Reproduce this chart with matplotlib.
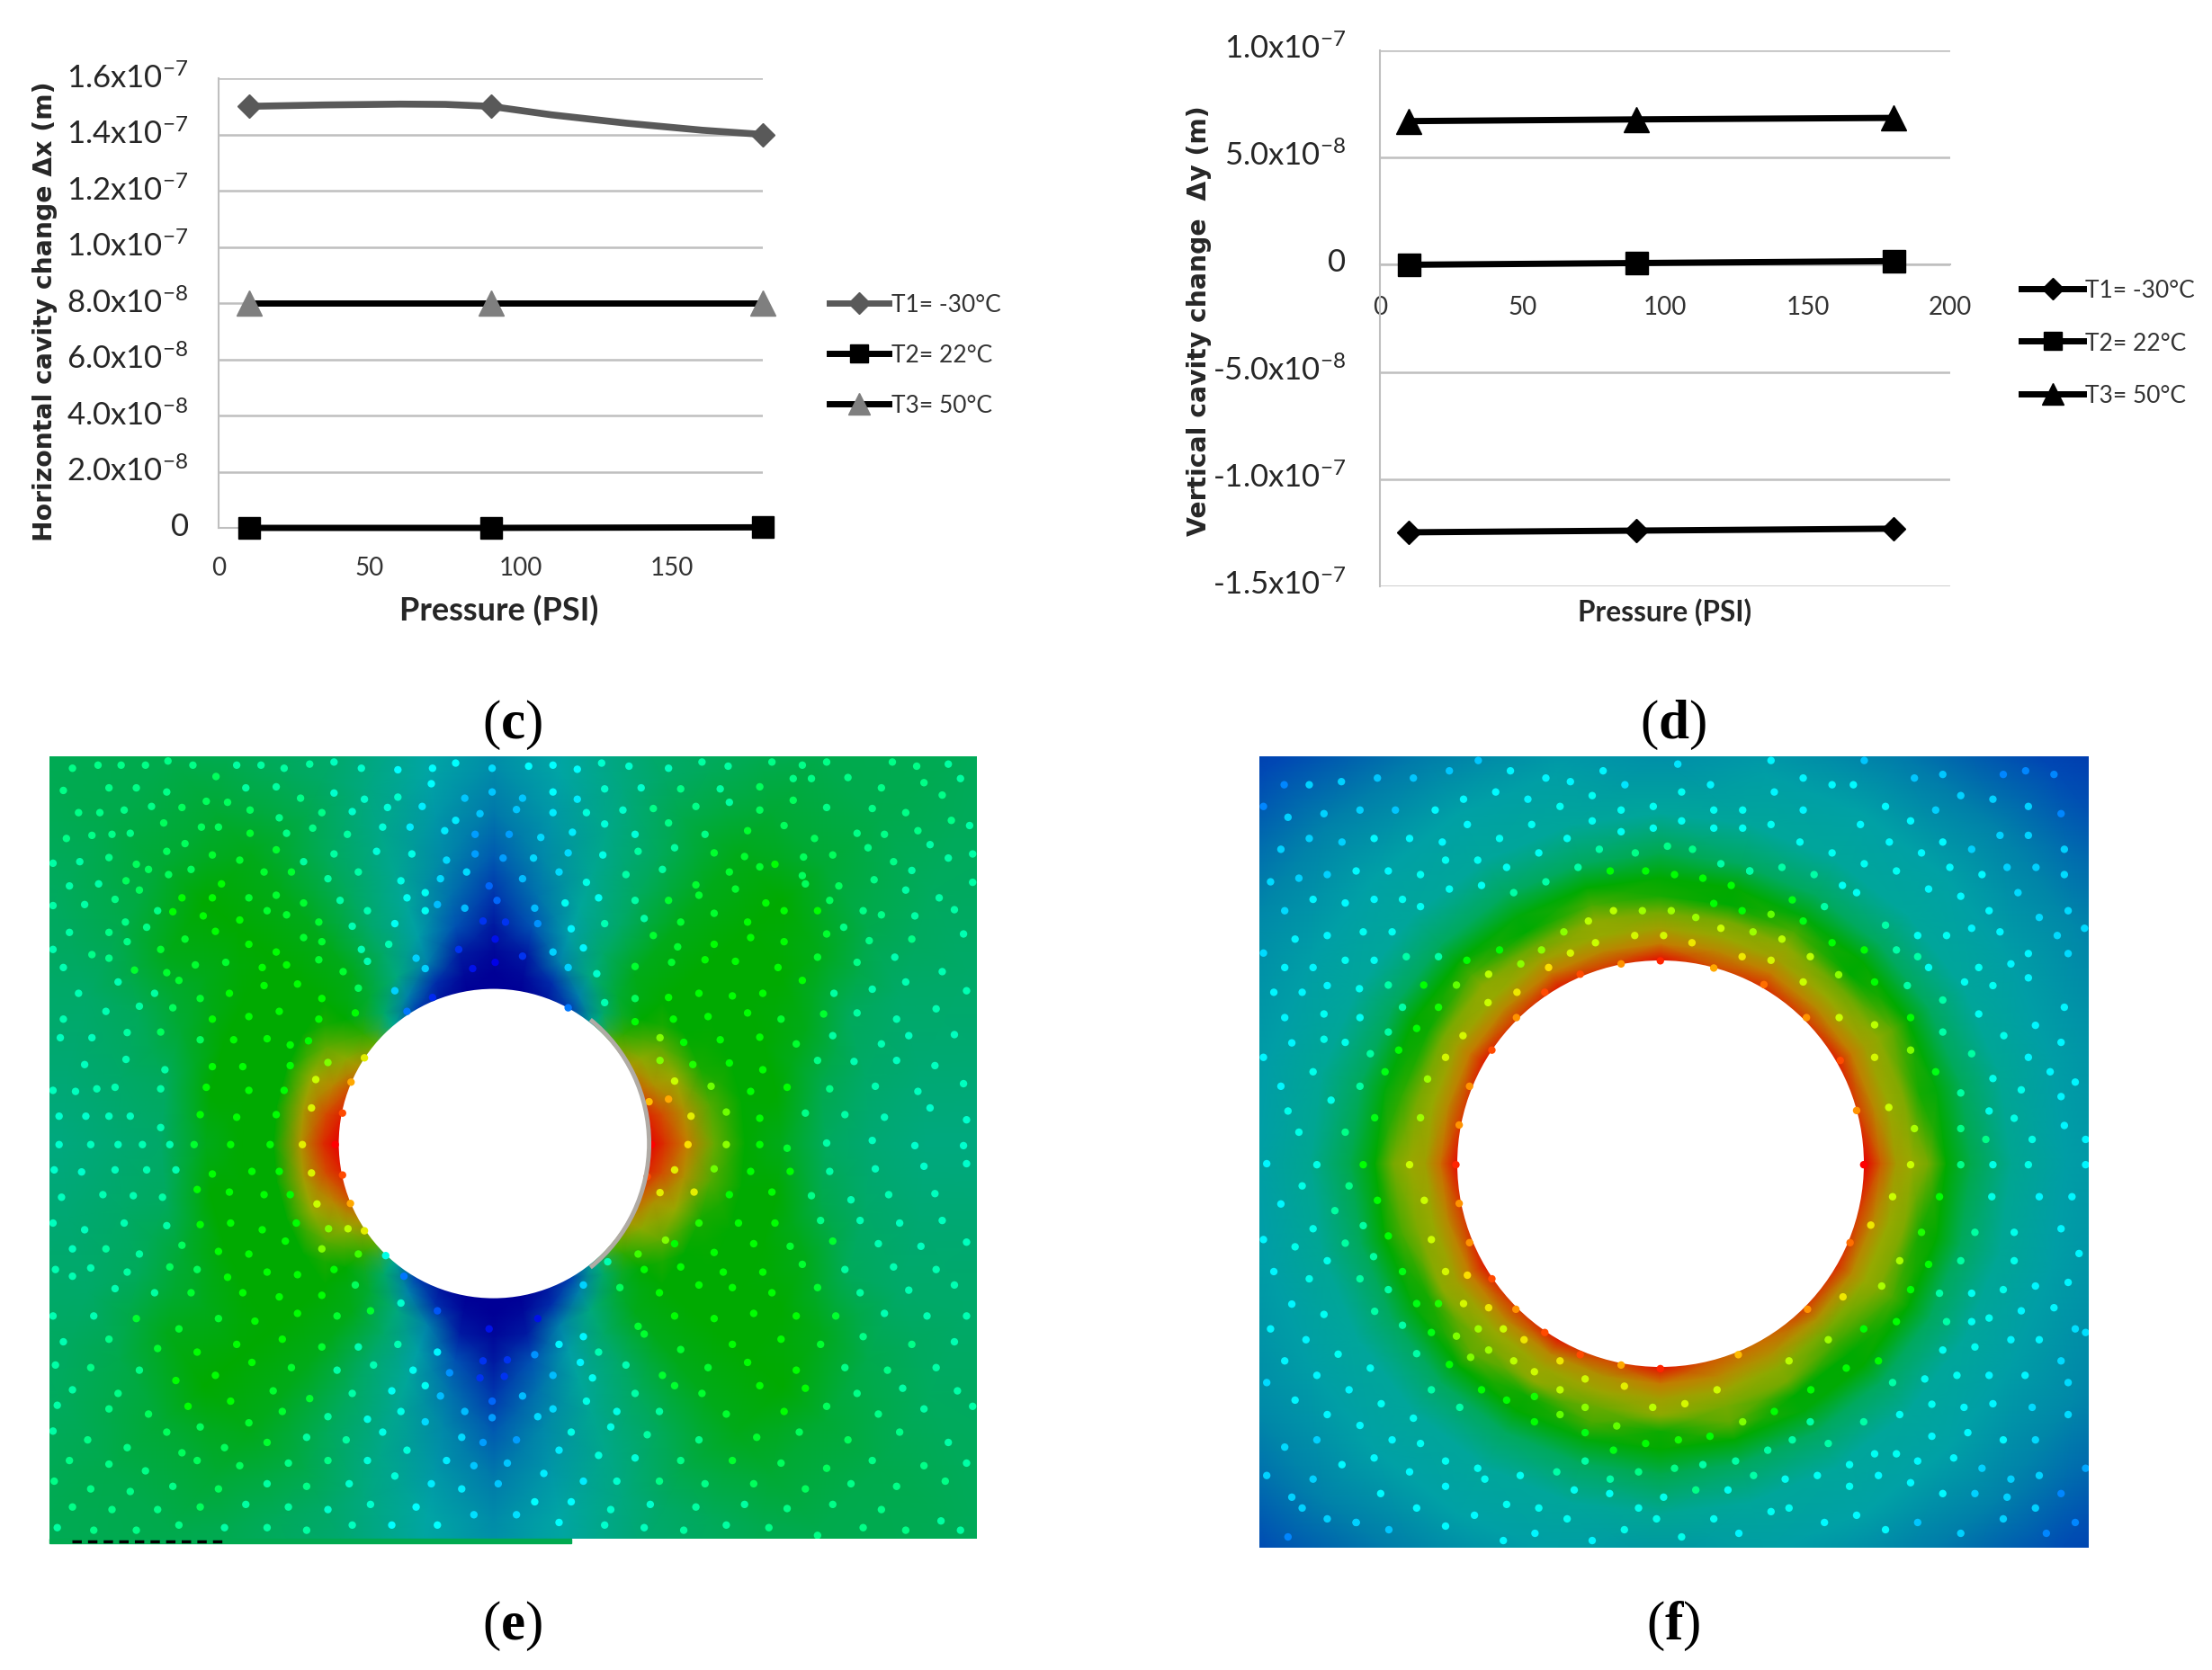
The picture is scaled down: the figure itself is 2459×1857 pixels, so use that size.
import numpy as np
import matplotlib
matplotlib.use('Agg')
import matplotlib.pyplot as plt
from matplotlib.colors import LinearSegmentedColormap
from matplotlib.lines import Line2D
from matplotlib.patches import Arc, Circle, Rectangle
from matplotlib.transforms import ScaledTranslation

W, H = 2459, 1858

# chart (c)
pressure = [10, 90, 180]
c_t1 = [1.5e-7, 1.5e-7, 1.4e-7]
c_t1_curve_x = [10, 35, 60, 75, 90, 110, 135, 160, 180]
c_t1_curve_y = [1.5e-7, 1.505e-7, 1.508e-7, 1.507e-7, 1.5e-7, 1.47e-7, 1.44e-7, 1.415e-7, 1.4e-7]
c_t2 = [0, 0, 2e-10]
c_t3 = [8e-8, 8e-8, 8e-8]
c_yticks = [0, 2e-8, 4e-8, 6e-8, 8e-8, 1e-7, 1.2e-7, 1.4e-7, 1.6e-7]
c_ylabels = ['0', '2.0x10$^{-8}$', '4.0x10$^{-8}$', '6.0x10$^{-8}$', '8.0x10$^{-8}$',
             '1.0x10$^{-7}$', '1.2x10$^{-7}$', '1.4x10$^{-7}$', '1.6x10$^{-7}$']
c_xticks = [0, 50, 100, 150]

# chart (d)
d_t1 = [-1.248e-7, -1.24e-7, -1.231e-7]
d_t2 = [0, 8e-10, 1.7e-9]
d_t3 = [6.7e-8, 6.78e-8, 6.85e-8]
d_yticks = [-1.5e-7, -1e-7, -5e-8, 0, 5e-8, 1e-7]
d_ylabels = ['-1.5x10$^{-7}$', '-1.0x10$^{-7}$', '-5.0x10$^{-8}$', '0', '5.0x10$^{-8}$', '1.0x10$^{-7}$']
d_xticks = [0, 50, 100, 150, 200]

series_names = ['T1= -30°C', 'T2= 22°C', 'T3= 50°C']

# field (e): radius rows, one value every 10 degrees, 0 = navy, 100 = red
e_radii = [172, 190, 215, 245, 280, 320, 370, 420, 480, 560, 720]
e_field = [
    [100, 96, 88, 80, 70, 44, 14, 5, 0, 0, 0, 5, 14, 44, 70, 80, 90, 96, 100, 96, 90, 80, 70, 44, 14, 5, 0, 0, 0, 5, 14, 44, 70, 80, 88, 96],
    [94, 90, 80, 74, 66, 52, 30, 10, 2, 0, 2, 10, 30, 52, 66, 74, 82, 90, 94, 90, 82, 74, 66, 52, 30, 10, 2, 0, 2, 10, 30, 52, 66, 74, 80, 90],
    [84, 80, 75, 70, 62, 58, 48, 30, 6, 2, 6, 30, 48, 58, 62, 70, 75, 78, 80, 78, 75, 70, 62, 58, 48, 30, 6, 2, 6, 30, 48, 58, 62, 70, 75, 80],
    [71, 69, 64, 62, 62, 60, 52, 38, 18, 6, 18, 38, 52, 60, 62, 62, 62, 62, 62, 62, 62, 62, 62, 60, 52, 38, 18, 6, 18, 38, 52, 60, 62, 62, 64, 69],
    [62, 62, 62, 62, 62, 60, 52, 42, 26, 12, 26, 42, 52, 60, 62, 62, 62, 62, 62, 62, 62, 62, 62, 60, 52, 42, 26, 12, 26, 42, 52, 60, 62, 62, 62, 62],
    [60, 62, 62, 62, 62, 60, 54, 44, 32, 20, 32, 44, 54, 60, 62, 62, 62, 62, 60, 62, 62, 62, 62, 60, 54, 44, 32, 20, 32, 44, 54, 60, 62, 62, 62, 62],
    [54, 56, 60, 62, 62, 60, 55, 46, 36, 28, 36, 46, 55, 60, 62, 60, 58, 54, 52, 54, 58, 60, 62, 60, 55, 46, 36, 28, 36, 46, 55, 60, 62, 62, 60, 56],
    [50, 52, 55, 60, 62, 60, 56, 48, 40, 33, 40, 48, 56, 60, 62, 60, 55, 52, 50, 52, 55, 60, 62, 60, 56, 48, 40, 33, 40, 48, 56, 60, 62, 60, 55, 52],
    [48, 50, 52, 56, 58, 58, 55, 50, 42, 36, 42, 50, 55, 58, 58, 56, 52, 50, 48, 50, 52, 56, 58, 58, 55, 50, 42, 36, 42, 50, 55, 58, 58, 56, 52, 50],
    [48, 50, 52, 54, 56, 56, 54, 50, 44, 38, 44, 50, 54, 56, 56, 54, 52, 50, 48, 50, 52, 54, 56, 56, 54, 50, 44, 38, 44, 50, 54, 56, 56, 54, 52, 50],
    [50, 52, 53, 54, 55, 55, 54, 52, 50, 48, 50, 52, 54, 55, 55, 54, 53, 52, 50, 52, 53, 54, 55, 55, 54, 52, 50, 48, 50, 52, 54, 55, 55, 54, 53, 52],
]

# field (f): radius rows, one value every 15 degrees
f_radii = [227, 245, 262, 280, 298, 318, 345, 390, 450, 530, 620, 760]
f_field = [
    [100, 92, 96, 92, 94, 90, 98, 92, 96, 92, 96, 92, 98, 92, 96, 92, 96, 90, 98, 88, 86, 92, 94, 92],
    [88, 82, 84, 82, 84, 82, 84, 82, 84, 82, 84, 82, 86, 82, 84, 82, 82, 80, 84, 82, 80, 80, 82, 82],
    [78, 75, 77, 75, 77, 75, 77, 75, 77, 75, 77, 75, 77, 75, 77, 75, 76, 76, 77, 76, 74, 72, 75, 75],
    [75, 73, 74, 71, 74, 72, 72, 74, 71, 74, 72, 72, 75, 73, 74, 72, 74, 71, 74, 72, 72, 67, 73, 73],
    [72, 64, 70, 62, 68, 62, 64, 68, 62, 68, 63, 66, 72, 68, 64, 70, 63, 68, 63, 70, 62, 62, 68, 64],
    [62, 61, 62, 62, 61, 62, 62, 62, 61, 62, 62, 61, 62, 62, 61, 62, 62, 61, 62, 62, 61, 62, 62, 62],
    [56, 55, 54, 54, 54, 54, 56, 54, 54, 54, 54, 55, 56, 55, 54, 54, 54, 54, 56, 54, 54, 54, 54, 55],
    [44, 43, 42, 42, 42, 42, 42, 42, 42, 42, 42, 43, 44, 43, 42, 42, 42, 42, 43, 42, 42, 42, 42, 43],
    [38, 38, 38, 39, 39, 38, 34, 38, 39, 39, 38, 38, 38, 38, 38, 39, 39, 38, 34, 38, 39, 39, 38, 38],
    [34, 33, 32, 30, 28, 30, 30, 30, 28, 30, 32, 33, 34, 33, 32, 30, 28, 30, 30, 30, 28, 30, 32, 33],
    [28, 26, 22, 16, 12, 16, 25, 16, 13, 16, 22, 26, 28, 26, 22, 16, 13, 16, 25, 16, 13, 16, 22, 26],
    [25, 20, 12, 6, 4, 6, 20, 6, 5, 6, 12, 20, 25, 20, 12, 6, 5, 6, 20, 6, 5, 6, 12, 20],
]

# mesh nodes
e_dots = [(60,44),(102,38),(140,38),(180,38),(217,30),(258,38),(330,38),(370,38),(408,44),(450,36),(490,32),(535,44),(595,47),(652,44),(690,34),(750,44),(810,40),(850,38),(890,46),(930,34),(975,40),(1040,44),(1095,32),(1138,40),(1210,32),(1260,38),(1300,32),(1408,32),(1448,40),(1500,36),
    (45,87),(120,82),(165,82),(215,90),(296,60),(345,82),(395,80),(435,102),(490,92),(540,104),(595,100),(650,74),(705,102),(750,90),(800,102),(850,90),(890,104),(935,84),(995,82),(1060,84),(1125,84),(1190,80),(1245,64),(1275,64),(1335,62),(1390,82),(1460,72),(1520,64),
    (70,130),(105,130),(145,125),(190,118),(240,120),(280,108),(315,110),(352,125),(400,140),(470,130),(520,128),(578,120),(635,118),(690,145),(730,132),(790,124),(850,130),(905,130),(965,125),(1015,122),(1085,118),(1140,110),(1190,125),(1245,106),(1300,120),(1375,122),(1430,130),(1490,96),(1535,155),
    (50,180),(92,174),(125,172),(155,170),(210,150),(272,158),(300,158),(352,170),(412,170),(455,160),(512,172),(570,158),(615,158),(672,165),(722,172),(778,172),(830,178),(882,168),(935,152),(985,172),(1040,150),(1100,172),(1170,165),(1230,155),(1280,180),(1350,170),(1395,172),(1450,165),(1505,145),
    (28,228),(72,225),(120,217),(165,230),(215,205),(245,190),(290,212),(335,222),(395,202),(440,225),(490,210),(560,205),(618,210),(675,222),(722,210),(768,218),(818,218),(875,208),(932,212),(990,205),(1050,198),(1115,208),(1165,215),(1215,230),(1262,216),(1310,212),(1368,198),(1410,225),(1470,192),(1540,210),
    (55,272),(103,268),(148,262),(185,240),(218,250),(255,240),(305,268),(375,245),(420,245),(480,258),(530,245),(600,262),(640,285),(665,258),(708,245),(745,272),(800,258),(860,245),(905,265),(970,250),(1030,240),(1085,270),(1140,245),(1190,235),(1260,252),(1320,272),(1378,260),(1440,242),(1500,218),
    (28,310),(80,308),(130,298),(170,280),(200,320),(240,295),(290,295),(350,295),(395,290),(440,305),(500,300),(545,320),(610,295),(660,308),(705,315),(758,300),(820,315),(870,305),(925,295),(985,300),(1040,300),(1090,290),(1150,278),(1200,305),(1265,268),(1305,300),(1360,320),(1430,280),(1485,295),(1540,265),
    (55,362),(120,362),(147,342),(182,352),(225,322),(275,330),(335,338),(380,320),(412,328),(465,342),(520,350),(590,345),(640,320),(735,340),(772,342),(825,345),(880,355),(935,345),(1000,335),(1060,342),(1115,325),(1170,342),(1230,320),(1285,320),(1328,352),(1390,328),(1445,330),(1510,318),
    (28,395),(92,405),(150,380),(205,395),(245,375),(295,360),(350,385),(395,400),(440,372),(470,380),(535,395),(580,385),(625,412),(695,395),(755,375),(800,408),(850,400),(900,392),(1015,368),(1055,390),(1115,385),(1175,372),(1230,380),(1300,365),(1370,378),(1440,375),(1525,365),
    (45,430),(120,412),(162,435),(215,440),(262,425),(312,420),(372,430),(412,425),(465,415),(505,438),(545,418),(640,432),(718,432),(755,420),(875,430),(922,442),(985,428),(1045,420),(1100,415),(1150,418),(1220,430),(1285,410),(1350,420),(1412,410),(1490,438),
    (70,480),(135,458),(195,480),(235,455),(270,490),(318,480),(375,465),(430,462),(470,490),(530,470),(590,475),(652,488),(875,508),(935,498),(985,490),(1040,488),(1090,480),(1145,485),(1195,480),(1260,455),(1312,480),(1375,472),(1430,458),(1530,475),
    (45,530),(115,515),(170,505),(225,508),(290,530),(350,525),(400,515),(465,530),(525,518),(610,515),(985,535),(1048,530),(1105,525),(1170,518),(1225,530),(1295,520),(1350,518),(1415,530),(1480,510),
    (40,566),(92,566),(150,556),(205,555),(270,570),(325,570),(380,568),(418,580),(448,572),(1026,566),(1065,575),(1125,570),(1190,565),(1250,578),(1310,562),(1390,578),(1435,562),(1510,560),
    (80,618),(148,608),(212,628),(290,622),(340,622),(418,620),(480,614),(540,605),(1026,610),(1080,618),(1140,615),(1195,628),(1285,610),(1345,612),(1415,610),(1478,620),
    (28,668),(65,670),(100,665),(130,662),(205,665),(280,662),(350,668),(408,668),(460,647),(518,652),(1050,650),(1110,660),(1175,670),(1235,662),(1305,665),(1380,660),(1450,670),(1525,655),
    (38,718),(82,718),(120,718),(155,718),(205,740),(270,715),(330,720),(395,715),(453,702),(504,712),(1008,690),(1040,685),(1077,718),(1135,710),(1190,722),(1265,712),(1330,715),(1395,720),(1470,702),(1530,725),
    (38,773),(90,773),(135,773),(175,773),(220,773),(260,773),(320,773),(385,773),(438,773),(492,773),(1012,773),(1072,773),(1135,773),(1190,773),(1235,780),(1300,770),(1375,765),(1445,775),(1525,775),
    (30,822),(75,826),(130,822),(182,822),(230,822),(290,830),(355,825),(400,825),(453,828),(504,832),(1005,835),(1050,822),(1115,820),(1175,825),(1240,825),(1305,825),(1380,820),(1460,815),(1530,810),
    (42,875),(110,870),(160,872),(208,875),(265,860),(318,865),(375,870),(418,870),(462,888),(517,887),(1026,866),(1082,865),(1140,870),(1210,865),(1275,872),(1340,880),(1402,870),(1478,868),
    (28,925),(80,938),(145,925),(215,930),(270,928),(320,925),(372,938),(428,925),(481,936),(513,936),(540,940),(1035,958),(1090,925),(1155,925),(1215,925),(1290,920),(1355,920),(1420,925),(1490,920),
    (60,975),(115,975),(170,985),(240,968),(300,980),(350,985),(410,960),(470,975),(530,985),(990,985),(1050,965),(1115,982),(1180,965),(1240,970),(1310,960),(1385,965),(1455,970),(1530,962),
    (32,1015),(90,1012),(150,1020),(220,1010),(265,1015),(315,1030),(380,1020),(430,1025),(490,1015),(575,988),(940,1000),(1000,1015),(1060,1010),(1130,1020),(1195,1020),(1260,1005),(1330,1015),(1410,1010),(1480,1015),
    (60,1028),(130,1052),(195,1060),(255,1060),(340,1060),(400,1068),(470,1065),(525,1045),(605,1028),(900,1045),(960,1050),(1025,1060),(1090,1045),(1145,1050),(1210,1060),(1285,1050),(1355,1060),(1435,1055),(1510,1045),
    (28,1105),(95,1105),(165,1110),(235,1130),(300,1110),(360,1115),(430,1100),(495,1105),(550,1095),(600,1080),(660,1095),(825,1110),(900,1145),(990,1125),(1050,1105),(1115,1110),(1180,1100),(1250,1105),(1315,1105),(1395,1100),(1465,1105),(1530,1105),
    (45,1155),(120,1150),(200,1168),(265,1175),(330,1160),(405,1150),(470,1165),(530,1165),(595,1160),(660,1175),(745,1130),(860,1160),(925,1175),(1000,1140),(1060,1170),(1145,1160),(1225,1150),(1290,1160),(1360,1145),(1440,1160),(1510,1155),
    (32,1200),(90,1205),(170,1210),(230,1230),(295,1220),(355,1195),(420,1205),(495,1210),(555,1200),(620,1210),(680,1215),(735,1192),(775,1190),(820,1180),(895,1195),(970,1200),(1030,1220),(1105,1205),(1170,1195),(1250,1210),(1330,1205),(1400,1210),(1480,1205),
    (60,1248),(135,1255),(185,1295),(250,1280),(320,1270),(390,1250),(450,1265),(520,1255),(585,1250),(640,1240),(730,1225),(770,1222),(850,1220),(915,1225),(985,1255),(1050,1240),(1095,1255),(1190,1240),(1265,1245),(1350,1255),(1425,1245),(1515,1250),
    (35,1278),(120,1285),(215,1330),(270,1320),(350,1312),(405,1290),(480,1300),(545,1305),(600,1290),(665,1260),(705,1290),(750,1270),(800,1260),(850,1285),(905,1270),(955,1290),(1025,1290),(1135,1295),(1230,1290),(1300,1280),(1385,1295),(1460,1285),(1540,1280),
    (28,1328),(85,1345),(150,1360),(240,1370),(310,1360),(380,1350),(445,1340),(510,1345),(570,1330),(640,1310),(700,1340),(750,1302),(825,1300),(880,1330),(945,1320),(1005,1335),(1090,1345),(1185,1340),(1255,1330),(1335,1345),(1420,1330),(1500,1350),
    (55,1385),(120,1392),(180,1405),(265,1385),(335,1395),(415,1390),(480,1385),(545,1385),(610,1365),(675,1385),(735,1350),(790,1345),(860,1365),(925,1375),(985,1380),(1060,1385),(1145,1385),(1225,1390),(1300,1400),(1375,1385),(1460,1395),(1530,1390),
    (30,1425),(90,1440),(155,1445),(225,1435),(300,1440),(380,1430),(445,1435),(515,1430),(590,1415),(650,1430),(720,1395),(775,1390),(835,1410),(900,1425),(955,1425),(1025,1425),(1100,1430),(1180,1430),(1265,1440),(1340,1430),(1415,1435),(1495,1425),
    (60,1475),(125,1480),(200,1480),(270,1475),(345,1470),(415,1475),(480,1480),(550,1470),(625,1475),(700,1440),(760,1430),(820,1465),(880,1465),(945,1480),(1010,1470),(1085,1475),(1165,1470),(1235,1478),(1310,1470),(1390,1480),(1488,1502),
    (35,1515),(95,1520),(165,1520),(235,1510),(310,1515),(380,1515),(445,1520),(520,1510),(585,1510),(660,1510),(720,1490),(790,1490),(860,1505),(935,1510),(1000,1515),(1065,1520),(1135,1510),(1205,1515),(1285,1530),(1360,1515),(1430,1520),(1520,1520)]

f_dots = [(752,417),(680,423),(850,431),(605,443),(942,463),(540,478),(488,527),(1020,527),(443,590),(1082,610),(402,660),(383,735),(1112,707),(377,812),(1125,812),(383,887),(1100,963),(402,963),(443,1033),(1022,1092),(487,1092),(540,1137),(895,1180),(605,1180),(680,1200),(752,1207),
    (705,368),(758,368),(810,382),(633,382),(587,402),(902,409),(955,416),(547,430),(489,478),(436,498),(1014,458),(1080,527),(1145,541),(390,562),(1145,604),(358,604),(325,646),(1171,701),(312,721),(1218,742),(292,812),(1211,812),(319,881),(1178,874),(1138,929),(332,957),(358,1019),(398,1026),(1087,1068),(391,1081),(437,1089),(464,1130),(1060,1151),(502,1151),(988,1192),(568,1192),(521,1213),(614,1227),(686,1241),(738,1282),(797,1275),(856,1248),
    (772,320),(719,320),(666,320),(620,340),(817,333),(863,354),(922,361),(975,375),(575,361),(534,396),(496,423),(457,396),(437,443),(1027,409),(1079,444),(1145,458),(378,464),(345,409),(397,416),(850,306),(902,320),(955,327),(1014,340),(1067,382),(1126,396),(318,464),(279,507),(345,507),(305,548),(272,590),(253,555),(247,632),(1211,527),(1211,590),(1257,632),(228,721),(207,812),(233,881),(253,950),(226,990),(279,1019),(253,1054),(305,1081),(345,1081),(279,1123),(332,1137),(378,1144),(418,1130),(305,1178),(365,1199),(404,1185),(437,1171),(483,1192),(424,1248),(470,1268),(568,1248),(521,1261),(568,1296),(521,1310),(614,1282),(614,1331),(672,1318),(666,1365),(725,1352),(785,1345),(843,1338),(903,1310),(961,1290),(1027,1310),(1028,1248),(1093,1206),(1152,1192),(1125,1130),(1185,1116),(1158,1047),(1211,1054),(1191,998),(1244,1005),(1231,943),(1264,874),(1303,812),(1303,742),
    (62,76),(108,76),(167,70),(233,63),(299,63),(365,49),(418,29),(477,49),(542,63),(587,70),(647,49),(687,76),(784,36),(844,76),(955,29),(1014,63),(1067,76),(1126,29),(1218,63),(1270,56),(1381,56),(1422,49),(1474,56),
    (24,118),(69,139),(135,132),(201,125),(266,125),(339,125),(391,104),(450,90),(509,104),(568,118),(627,97),(680,125),(739,118),(791,90),(850,125),(903,125),(961,90),(1014,125),(1106,76),(1165,118),(1211,146),(1257,125),(1303,97),(1362,104),(1427,118),(1487,132),
    (56,201),(108,180),(168,187),(227,180),(292,180),(352,187),(398,153),(457,180),(516,153),(581,180),(627,146),(680,167),(739,160),(791,146),(850,160),(903,160),(955,153),(1008,187),(1067,208),(1119,153),(1172,187),(1231,208),(1270,187),(1323,201),(1375,174),(1427,174),(1493,201),
    (37,264),(89,257),(141,250),(194,243),(253,243),(312,250),(358,222),(417,222),(470,236),(529,208),(601,236),(640,201),(706,208),(765,195),(811,201),(863,229),(916,243),(975,236),(1034,250),(1086,271),(1126,229),(1185,243),(1244,278),(1283,236),(1342,250),(1388,236),(1441,236),(1493,250),
    (63,320),(115,298),(174,305),(227,298),(279,298),(312,312),(365,278),(424,271),(483,285),(542,264),(660,243),(725,243),(778,250),(830,257),(882,271),(916,243),(994,299),(1053,312),(1112,285),(1165,348),(1224,368),(1303,292),(1355,320),(1408,285),(1447,333),(1500,320),
    (82,375),(141,368),(207,361),(260,361),(286,409),(227,416),(174,416),(115,430),(63,430),(24,402),(1185,396),(1224,409),(1244,430),(1277,368),(1323,354),(1375,361),(1427,403),(1480,368),(1530,354),(1336,430),(1395,423),(1500,403),
    (43,478),(95,478),(141,465),(200,471),(253,464),(201,527),(135,520),(63,527),(174,575),(115,632),(220,597),(135,569),(76,576),(24,604),(56,660),(148,687),(201,660),(69,708),(89,749),(174,749),(30,810),(122,812),
    (1205,465),(1270,493),(1310,458),(1362,465),(1427,450),(1270,555),(1336,520),(1382,562),(1440,542),(1493,507),(1323,597),(1362,645),(1427,604),(1487,575),(1303,673),(1414,667),(1467,632),(1513,652),(1355,708),(1401,722),(1487,680),(1434,763),(1493,736),(1349,763),(1532,763),(1362,812),(1427,812),(1532,812),
    (95,853),(181,853),(56,888),(155,901),(207,930),(115,936),(24,957),(82,971),(174,964),(43,1019),(141,998),(201,1033),(108,1033),(76,1082),(135,1102),(228,1096),(37,1130),(102,1151),(161,1179),(63,1192),(122,1220),(220,1206),(181,1248),(30,1234),(82,1268),(240,1275),(141,1296),(332,1248),(299,1303),(201,1317),(260,1345),(63,1359),(122,1345),
    (1360,874),(1447,874),(1507,874),(1329,943),(1401,943),(1487,936),(1303,998),(1401,998),(1520,984),(1264,1061),(1323,1061),(1381,1054),(1440,1047),(1500,1040),(1323,1116),(1277,1116),(1355,1109),(1414,1095),(1474,1089),(1532,1137),(1270,1171),(1329,1165),(1395,1151),(1447,1151),(1513,1130),(1237,1227),(1296,1220),(1355,1220),(1421,1220),(1487,1192),(1178,1234),(1250,1276),(1309,1282),(1362,1275),(1434,1282),(1500,1234),(1125,1310),(1191,1296),(1250,1338),(1316,1331),(1381,1345),(1440,1345),(1500,1296),
    (384,1282),(312,1352),(358,1386),(227,1380),(292,1407),(168,1393),(115,1421),(30,1414),(76,1456),(141,1498),(194,1505),(358,1435),(430,1421),(495,1414),(562,1407),(614,1386),(660,1421),(712,1407),(778,1400),(830,1393),(890,1386),(949,1365),(994,1345),(1060,1352),(1099,1393),(1145,1372),(1185,1372),(1224,1386),(1290,1380),(1342,1400),(1395,1421),(1447,1414),(1487,1449),(1532,1400),
    (239,1449),(305,1477),(358,1512),(417,1400),(470,1470),(529,1477),(594,1442),(659,1449),(712,1477),(758,1456),(817,1442),(876,1442),(923,1414),(981,1421),(1040,1414),(1099,1435),(1152,1414),(1211,1428),(1270,1449),(1329,1449),(1388,1456),(1440,1477),(1513,1505),
    (95,1477),(69,1533),(194,1505),(254,1519),(411,1491),(464,1540),(522,1526),(581,1498),(627,1540),(686,1519),(745,1498),(791,1533),(850,1498),(896,1526),(955,1484),(988,1477),(1053,1505),(1112,1491),(1165,1519),(1224,1505),(1303,1526),(1381,1498),(1460,1526)]

panel_cmap = [(0, '#000096'), (0.15, '#0046b4'), (0.30, '#0082aa'), (0.40, '#00a5a5'), (0.55, '#00aa5a'),
              (0.62, '#00aa00'), (0.75, '#96aa00'), (0.85, '#c87800'), (1, '#e60000')]
dot_cmap = [(0, '#0000e6'), (0.15, '#0082ff'), (0.30, '#00d2ff'), (0.40, '#00ffff'), (0.55, '#00ffa0'),
            (0.62, '#00ff00'), (0.75, '#c8ff00'), (0.85, '#ffdc00'), (0.92, '#ff9600'), (1, '#ff0000')]
field_cm = LinearSegmentedColormap.from_list('field', panel_cmap)
dots_cm = LinearSegmentedColormap.from_list('dots', dot_cmap)

plt.rcParams['mathtext.default'] = 'regular'
plt.rcParams['mathtext.fontset'] = 'custom'
plt.rcParams['mathtext.rm'] = 'Lato'
plt.rcParams['mathtext.bf'] = 'Liberation Serif:bold'
plt.rcParams['font.family'] = ['Lato', 'DejaVu Sans']

fig = plt.figure(figsize=(W / 100, H / 100), dpi=100)
fig.patch.set_facecolor('white')


def px_axes(left, top, right, bottom):
    return fig.add_axes([left / W, 1 - bottom / H, (right - left) / W, (bottom - top) / H])


def style_chart(ax, xticks, yticks, ylabels, ypad, lift):
    ax.set_xticks(xticks)
    ax.set_yticks(yticks)
    ax.set_yticklabels(ylabels)
    ax.tick_params(axis='y', length=0, labelsize=25, pad=ypad, labelcolor='#262626')
    ax.tick_params(axis='x', length=0, labelsize=20, labelcolor='#333333')
    ax.grid(axis='y', color='#bfbfbf', lw=1.8)
    ax.set_axisbelow(True)
    for s in ['top', 'right']:
        ax.spines[s].set_visible(False)
    for s in ['left', 'bottom']:
        ax.spines[s].set_color('#bfbfbf')
        ax.spines[s].set_linewidth(1.5)
    # the labels sit a little above their gridlines
    for lab in ax.get_yticklabels():
        lab.set_transform(lab.get_transform() + ScaledTranslation(0, lift / 100, fig.dpi_scale_trans))


# (c)
ax_c = px_axes(243, 88, 848, 588)
ax_c.plot(c_t1_curve_x, c_t1_curve_y, color='#595959', lw=5.5, solid_capstyle='round', clip_on=False, zorder=3)
ax_c.plot(pressure, c_t1, ls='none', marker='D', ms=13, color='#595959', clip_on=False, zorder=3)
ax_c.plot(pressure, c_t2, color='black', lw=5, marker='s', ms=17, clip_on=False, zorder=3)
ax_c.plot(pressure, c_t3, color='black', lw=5, clip_on=False, zorder=3)
ax_c.plot(pressure, c_t3, ls='none', marker='^', ms=20, color='#7f7f7f', clip_on=False, zorder=3)
ax_c.set_xlim(0, 180)
ax_c.set_ylim(0, 1.6e-7)
style_chart(ax_c, c_xticks, c_yticks, c_ylabels, 24, 4.5)
ax_c.tick_params(axis='x', pad=22)
c_handles = [Line2D([], [], color='#595959', lw=5, marker='D', ms=12),
             Line2D([], [], color='black', lw=5, marker='s', ms=15),
             Line2D([], [], color='black', lw=5, marker='^', ms=17, mfc='#7f7f7f', mec='#7f7f7f')]
fig.legend(c_handles, series_names, loc='upper left', bbox_to_anchor=(909 / W, 1 - 314 / H), frameon=False,
           fontsize=19, labelspacing=1.17, handlelength=2.5, handletextpad=0.1, borderpad=0,
           labelcolor='#333333')
fig.text(50 / W, 1 - 346 / H, 'Horizontal cavity change Δx (m)', rotation=90, ha='center', va='center',
         fontsize=20.3, fontweight='bold', family='DejaVu Sans', color='#262626')
fig.text(555 / W, 1 - 679 / H, 'Pressure (PSI)', ha='center', va='center', fontsize=26, fontweight='bold',
         color='#262626')

# (d)
ax_d = px_axes(1534, 57, 2168, 653)
ax_d.plot(pressure, d_t1, color='black', lw=5, marker='D', ms=13, clip_on=False, zorder=3)
ax_d.plot(pressure, d_t2, color='black', lw=5, marker='s', ms=18, clip_on=False, zorder=3)
ax_d.plot(pressure, d_t3, color='black', lw=5, marker='^', ms=20, clip_on=False, zorder=3)
ax_d.set_xlim(0, 200)
ax_d.set_ylim(-1.5e-7, 1e-7)
style_chart(ax_d, d_xticks, d_yticks, d_ylabels, 27, 6)
ax_d.spines['bottom'].set_position(('data', 0))
ax_d.tick_params(axis='x', pad=24)
d_handles = [Line2D([], [], color='black', lw=5, marker='D', ms=12),
             Line2D([], [], color='black', lw=5, marker='s', ms=15),
             Line2D([], [], color='black', lw=5, marker='^', ms=17)]
fig.legend(d_handles, series_names, loc='upper left', bbox_to_anchor=(2234 / W, 1 - 298 / H), frameon=False,
           fontsize=19, labelspacing=1.27, handlelength=2.6, handletextpad=0.1, borderpad=0,
           labelcolor='#333333')
fig.text(1333 / W, 1 - 357 / H, 'Vertical cavity change  Δy (m)', rotation=90, ha='center', va='center',
         fontsize=20.3, fontweight='bold', family='DejaVu Sans', color='#262626')
fig.text(1851 / W, 1 - 681 / H, 'Pressure (PSI)', ha='center', va='center', fontsize=22.7, fontweight='bold',
         color='#262626')


def draw_field(rect, centre, radii, field, dots, crop, hole):
    ax = px_axes(*rect)
    ax.set_xlim(rect[0], rect[2])
    ax.set_ylim(rect[3], rect[1])
    ax.axis('off')
    values = np.array(field, dtype=float)
    n_ang = values.shape[1]
    step = 2 * np.pi / n_ang
    ang = np.arange(n_ang + 1) * step
    # extra row under the white disc so the mesh polygon does not show at the hole edge
    r_mesh = np.r_[radii[0] - 25, radii]
    r, t = np.meshgrid(r_mesh, ang, indexing='ij')
    x = centre[0] + r * np.cos(t)
    y = centre[1] - r * np.sin(t)
    c = np.c_[values, values[:, 0]]
    c = np.vstack([c[0], c])
    ax.pcolormesh(x, y, c, shading='gouraud', cmap=field_cm, vmin=0, vmax=100)
    ax.add_patch(Circle(centre, hole, color='white', lw=0, zorder=2))
    # colour of each node comes from the nearest table cell
    d = np.array(dots, dtype=float)
    dx = d[:, 0] / crop[0] + crop[2]
    dy = d[:, 1] / crop[1] + crop[3]
    dr = np.hypot(dx - centre[0], dy - centre[1])
    dt = np.arctan2(centre[1] - dy, dx - centre[0]) % (2 * np.pi)
    ir = np.abs(np.subtract.outer(dr, np.array(radii))).argmin(axis=1)
    ia = np.round(dt / step).astype(int) % n_ang
    ax.scatter(dx, dy, c=values[ir, ia], s=36, cmap=dots_cm, vmin=0, vmax=100, linewidths=0, zorder=3)
    return ax


# (e)
ax_e = draw_field((55, 842, 1086, 1712), (548.6, 1272.6), e_radii, e_field, e_dots, (1.479, 1.742, 40, 830), 172)
ax_e.add_patch(Arc((548.6, 1272.6), 346, 352, theta1=-52, theta2=52, color='#b0aba5', lw=3.5, zorder=4))
fig.add_artist(Rectangle((55 / W, 1 - 1717 / H), 580 / W, 5 / H, color='#00aa50', transform=fig.transFigure))
fig.add_artist(Line2D([80 / W, 250 / W], [1 - 1715 / H, 1 - 1715 / H], color='black', lw=2.5,
                      ls=(0, (3, 2)), transform=fig.transFigure))

# (f)
draw_field((1400, 842, 2322, 1722), (1846, 1295), f_radii, f_field, f_dots, (1.65, 1.742, 1390, 830), 226)

# panel letters
letters = ['c', 'd', 'e', 'f']
letter_x = [570, 1860, 570, 1860]
letter_y = [806, 806, 1808, 1808]
for s, lx, ly in zip(letters, letter_x, letter_y):
    fig.text(lx / W, 1 - ly / H, '($\\mathbf{' + s + '}$)', ha='center', va='center', fontsize=44,
             family='Liberation Serif', color='black')

fig.savefig('out.png', dpi=100)
